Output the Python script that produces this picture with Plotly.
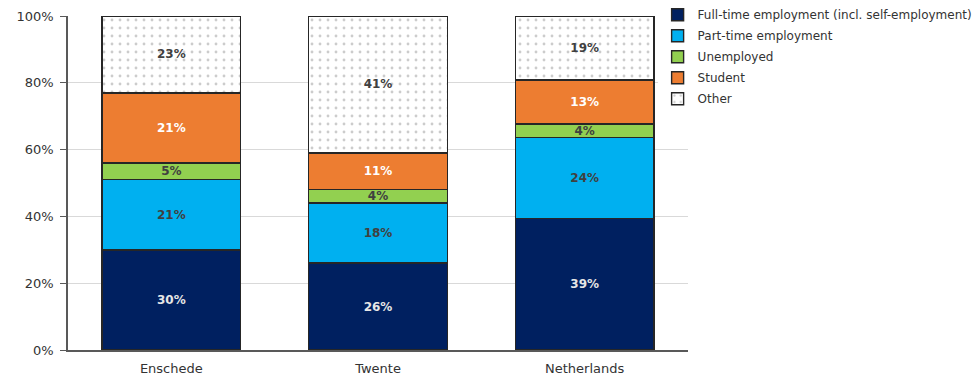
import plotly.graph_objects as go

regions = ["Enschede", "Twente", "Netherlands"]

series_names = [
    "Full-time employment (incl. self-employment)",
    "Part-time employment",
    "Unemployed",
    "Student",
    "Other",
]
full_time = [30, 26, 39]
part_time = [21, 18, 24]
unemployed = [5, 4, 4]
student = [21, 11, 13]
other = [23, 41, 19]

y_ticks = [0, 20, 40, 60, 80, 100]
y_tick_labels = ["0%", "20%", "40%", "60%", "80%", "100%"]

series_values = [full_time, part_time, unemployed, student, other]
fill_colors = ["#002060", "#00b0f0", "#92d050", "#ed7d31", "#ffffff"]
label_colors = ["#e6e6e6", "#404040", "#404040", "#ffffff", "#404040"]

FONT = "DejaVu Sans"

fig = go.Figure()
for i, (name, vals, fill, lab_col) in enumerate(
        zip(series_names, series_values, fill_colors, label_colors)):
    marker = dict(color=fill, line=dict(color="#262626", width=1.4))
    if name == "Other":
        marker["pattern"] = dict(shape=".", fgcolor="#9a9a9a", bgcolor="#ffffff",
                                 size=8, solidity=0.1, fillmode="overlay")
    fig.add_trace(go.Bar(
        name=name,
        legendgroup=f"g{i}",
        x=regions,
        y=vals,
        marker=marker,
        text=[f"{v}%" for v in vals],
        textposition="inside",
        insidetextanchor="middle",
        textangle=0,
        textfont=dict(family=FONT, size=12, color=lab_col, weight="bold"),
        constraintext="none",
        cliponaxis=False,
    ))

fig.update_layout(
    barmode="stack",
    barnorm="percent",
    bargap=0.33,
    width=978,
    height=375,
    margin=dict(l=68, r=290, t=16, b=25, autoexpand=False),
    plot_bgcolor="#ffffff",
    paper_bgcolor="#ffffff",
    font=dict(family=FONT, size=12, color="#333333"),
    uniformtext=dict(minsize=8, mode="show"),
    legend=dict(
        x=0.951, y=1.047, xanchor="left", yanchor="top",
        traceorder="grouped",
        font=dict(family=FONT, size=12, color="#333333"),
        itemwidth=30,
        tracegroupgap=2,
        bgcolor="#ffffff",
    ),
    xaxis=dict(
        showline=True, linecolor="#595959", linewidth=1.5,
        ticks="", showgrid=False,
        ticklabelstandoff=6,
        tickfont=dict(family=FONT, size=13, color="#333333"),
    ),
    yaxis=dict(
        range=[0, 100.01],
        tickvals=y_ticks,
        ticktext=y_tick_labels,
        showline=True, linecolor="#595959", linewidth=1.5,
        ticks="outside", ticklen=6, tickcolor="#595959",
        ticklabelstandoff=4,
        showgrid=True, gridcolor="#d9d9d9", gridwidth=1,
        zeroline=False,
        tickfont=dict(family=FONT, size=13, color="#333333"),
    ),
)

fig.write_html("out.html")
